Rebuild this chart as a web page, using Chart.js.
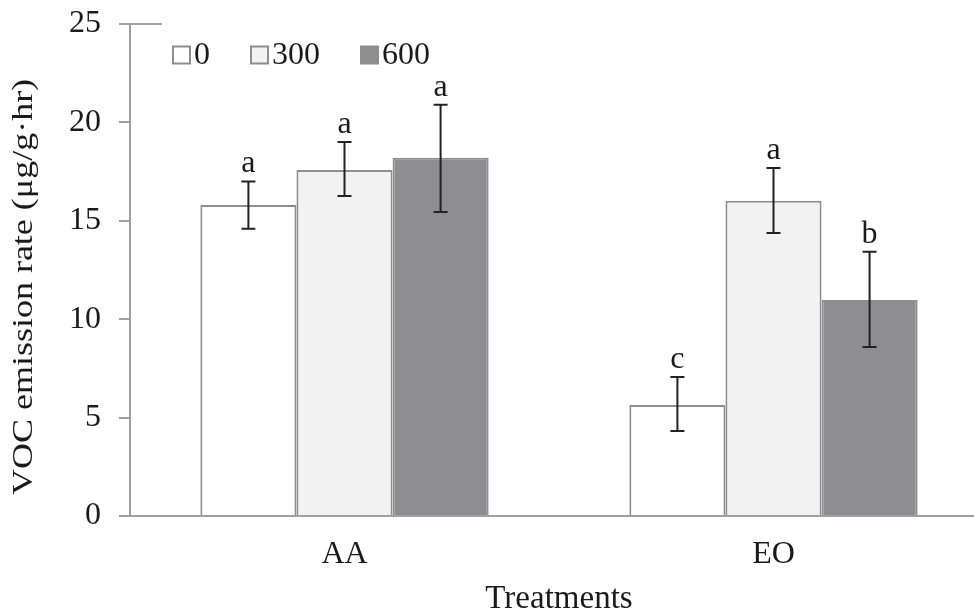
<!DOCTYPE html>
<html>
<head>
<meta charset="utf-8">
<script src="https://cdn.jsdelivr.net/npm/chart.js@4.4.1/dist/chart.umd.min.js"></script>
<style>
  html, body { margin: 0; padding: 0; background: #ffffff; overflow: hidden; }
  #wrap { width: 990px; height: 616px; }
</style>
</head>
<body>
<div id="wrap"><canvas id="c" width="990" height="616"></canvas></div>
<script>
// ---- data ----
const categories = ['AA', 'EO'];
const seriesLabels = ['0', '300', '600'];
const means0   = [15.8, 5.64];
const means300 = [17.58, 16.02];
const means600 = [18.2, 10.98];
const low0   = [14.6, 4.32];
const high0  = [17.0, 7.06];
const low300  = [16.26, 14.38];
const high300 = [19.0, 17.68];
const low600  = [15.45, 8.59];
const high600 = [20.9, 13.43];
const letters0   = ['a', 'c'];
const letters300 = ['a', 'a'];
const letters600 = ['a', 'b'];
const yTickMin = 0, yTickMax = 25, yTickStep = 5;
const yTitle = 'VOC emission rate (\u03bcg/g\u00b7hr)';
const xTitle = 'Treatments';

const FONT = '"Liberation Serif", "Times New Roman", serif';
const GREY = '#8e8e8e';
const fills = ['#ffffff', '#f2f2f2', '#8e8e90'];
const borders = [GREY, GREY, '#8e8e90'];

const errLow = [low0, low300, low600];
const errHigh = [high0, high300, high600];
const letters = [letters0, letters300, letters600];
const means = [means0, means300, means600];

const datasets = seriesLabels.map((lab, i) => ({
  label: lab,
  data: means[i],
  backgroundColor: fills[i],
  borderColor: borders[i],
  borderWidth: 2,
  barPercentage: 1.0,
  categoryPercentage: 0.672
}));

const errorBarPlugin = {
  id: 'errorBars',
  afterDatasetsDraw(chart) {
    const ctx = chart.ctx;
    const y = chart.scales.y;
    ctx.save();
    chart.data.datasets.forEach((ds, i) => {
      const meta = chart.getDatasetMeta(i);
      meta.data.forEach((bar, j) => {
        const x = bar.x;
        const yl = y.getPixelForValue(errLow[i][j]);
        const yh = y.getPixelForValue(errHigh[i][j]);
        ctx.strokeStyle = '#222222';
        ctx.lineWidth = 2;
        ctx.beginPath();
        ctx.moveTo(x, yl); ctx.lineTo(x, yh);
        ctx.moveTo(x - 7, yl); ctx.lineTo(x + 7, yl);
        ctx.moveTo(x - 7, yh); ctx.lineTo(x + 7, yh);
        ctx.stroke();
        ctx.fillStyle = '#1a1a1a';
        ctx.font = '32px ' + FONT;
        ctx.textAlign = 'center';
        ctx.textBaseline = 'alphabetic';
        ctx.fillText(letters[i][j], x, yh - 9);
      });
    });
    ctx.restore();
  }
};

const legendPlugin = {
  id: 'customLegend',
  afterDraw(chart) {
    const ctx = chart.ctx;
    const area = chart.chartArea;
    ctx.save();
    ctx.font = '32px ' + FONT;
    ctx.textBaseline = 'middle';
    ctx.textAlign = 'left';
    let x = area.left + 43;
    const cy = area.top + 31;
    const box = 17;
    chart.data.datasets.forEach((ds, i) => {
      ctx.fillStyle = ds.backgroundColor;
      ctx.fillRect(x, cy - box / 2, box, box);
      ctx.strokeStyle = ds.borderColor;
      ctx.lineWidth = 2;
      ctx.strokeRect(x, cy - box / 2, box, box);
      ctx.fillStyle = '#1a1a1a';
      ctx.fillText(ds.label, x + box + 4, cy + 1);
      const w = ctx.measureText(ds.label).width;
      x += box + 4 + w + 41;
    });
    // short top segment at the max tick
    const yTop = chart.scales.y.getPixelForValue(yTickMax);
    ctx.strokeStyle = '#a0a0a0';
    ctx.lineWidth = 2;
    ctx.beginPath();
    ctx.moveTo(area.left - 11, yTop);
    ctx.lineTo(area.left + 32, yTop);
    ctx.stroke();
    // y-axis title (slightly stretched along its direction, as in the reference)
    const midY = (area.top + area.bottom) / 2 + 17;
    ctx.translate(24, midY);
    ctx.rotate(-Math.PI / 2);
    ctx.scale(1.2, 1);
    ctx.font = '30px ' + FONT;
    ctx.textAlign = 'center';
    ctx.textBaseline = 'middle';
    ctx.fillStyle = '#1a1a1a';
    ctx.fillText(yTitle, 0, 0);
    ctx.restore();
  }
};

new Chart(document.getElementById('c'), {
  type: 'bar',
  data: { labels: categories, datasets },
  options: {
    responsive: false,
    animation: false,
    devicePixelRatio: 1,
    layout: { padding: { top: 24, right: 2, left: 0, bottom: 0 } },
    plugins: { legend: { display: false }, tooltip: { enabled: false } },
    scales: {
      x: {
        afterFit(s) { s.height = 100; s.paddingLeft = 0; s.paddingRight = 0; },
        grid: { display: false, drawTicks: false },
        border: { display: true, color: '#a0a0a0', width: 2 },
        ticks: { color: '#1a1a1a', font: { family: FONT, size: 32 }, padding: 19 },
        title: { display: true, text: xTitle, color: '#1a1a1a',
                 font: { family: FONT, size: 33, lineHeight: 1.0 }, padding: { top: 0, bottom: 0 } }
      },
      y: {
        min: yTickMin, max: yTickMax,
        afterFit(s) { s.width = 130; s.paddingTop = 0; s.paddingBottom = 0; },
        grid: { drawOnChartArea: false, tickLength: 11, color: '#a0a0a0', lineWidth: 2 },
        border: { display: true, color: '#a0a0a0', width: 2 },
        ticks: { stepSize: yTickStep, color: '#1a1a1a', font: { family: FONT, size: 32 }, padding: 18 },
        title: { display: false, text: yTitle }
      }
    }
  },
  plugins: [errorBarPlugin, legendPlugin]
});
</script>
</body>
</html>
